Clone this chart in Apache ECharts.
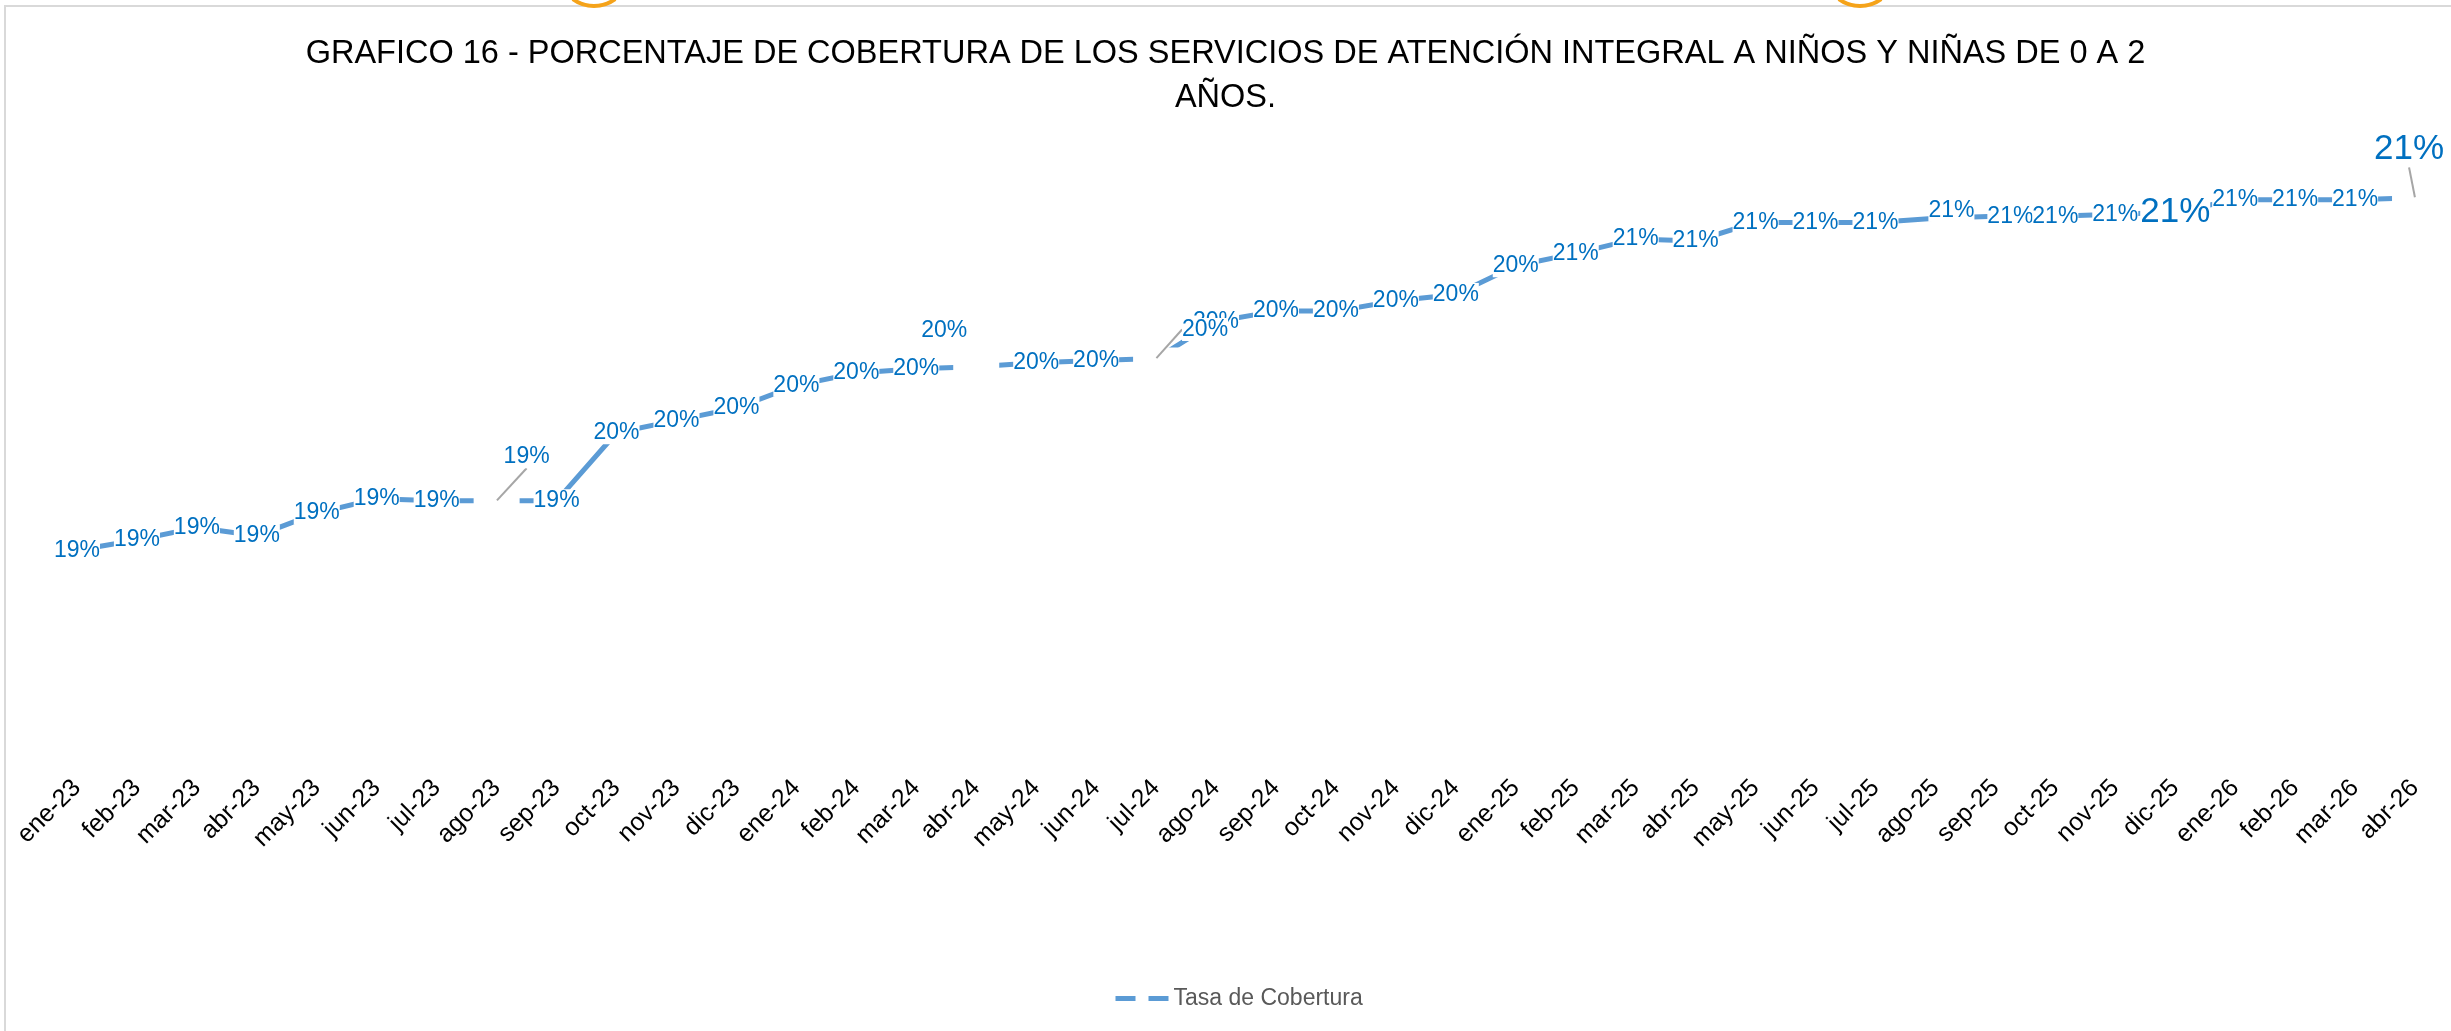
<!DOCTYPE html>
<html>
<head>
<meta charset="utf-8">
<script src="https://cdn.jsdelivr.net/npm/echarts@6/dist/echarts.min.js"></script>
<style>
html, body { margin: 0; padding: 0; background: #fff; }
#main { width: 2451px; height: 1031px; }
</style>
</head>
<body>
<div id="main"></div>
<script>
var months = ['ene-23', 'feb-23', 'mar-23', 'abr-23', 'may-23', 'jun-23', 'jul-23', 'ago-23', 'sep-23', 'oct-23',
    'nov-23', 'dic-23', 'ene-24', 'feb-24', 'mar-24', 'abr-24', 'may-24', 'jun-24', 'jul-24', 'ago-24',
    'sep-24', 'oct-24', 'nov-24', 'dic-24', 'ene-25', 'feb-25', 'mar-25', 'abr-25', 'may-25', 'jun-25',
    'jul-25', 'ago-25', 'sep-25', 'oct-25', 'nov-25', 'dic-25', 'ene-26', 'feb-26', 'mar-26', 'abr-26'];

// tasa de cobertura, en %
var cobertura = [19.09, 19.14, 19.20, 19.16, 19.27, 19.34, 19.33, 19.33, 19.33, 19.66,
    19.72, 19.78, 19.89, 19.95, 19.97, 19.98, 20.00, 20.01, 20.02, 20.20,
    20.25, 20.25, 20.30, 20.33, 20.47, 20.53, 20.60, 20.59, 20.68, 20.68,
    20.68, 20.70, 20.71, 20.71, 20.72, 20.73, 20.79, 20.79, 20.79, 20.80];

var seriesName = 'Tasa de Cobertura';
var titulo = 'GRAFICO 16 - PORCENTAJE DE COBERTURA DE LOS SERVICIOS DE ATENCIÓN INTEGRAL A NIÑOS Y NIÑAS DE 0 A 2\nAÑOS.';

// etiquetas movidas a mano (dx, dy, con linea guia)
var moved = {
    7: [30, -44, true],
    15: [-32, -36, false],
    18: [49, -29, true],
    31: [16, -8, false],
    32: [15, 0, false],
    39: [-6, -48, true]
};
var bigLabels = [35, 39];
// puntos donde la linea queda cortada (hueco de la etiqueta original)
var gaps = [7, 15, 18, 39];

var chartDom = document.getElementById('main');
var myChart = echarts.init(chartDom);

function pct(p) {
    var v = Array.isArray(p.value) ? p.value[1] : p.value;
    return Math.round(v) + '%';
}

var labelBase = {
    show: true,
    position: 'inside',
    fontFamily: 'Liberation Sans',
    fontSize: 23,
    color: '#0070C0',
    backgroundColor: '#fff',
    padding: [0, 0],
    formatter: pct
};

function layoutFn(p) {
    var m = moved[p.dataIndex];
    if (m) {
        return { dx: m[0], dy: m[1] };
    }
}

var seriesData = cobertura.map(function (v, i) {
    var item = { value: v };
    if (gaps.indexOf(i) >= 0) {
        item.label = { show: false };
    } else if (bigLabels.indexOf(i) >= 0) {
        item.label = { fontSize: 35 };
    }
    return item;
});

var gapData = cobertura.map(function (v, i) {
    return gaps.indexOf(i) >= 0 ? [i, v] : null;
});

var movedLabelData = cobertura.map(function (v, i) {
    if (gaps.indexOf(i) < 0) return null;
    var item = { value: [i, v] };
    if (bigLabels.indexOf(i) >= 0) item.label = { fontSize: 35 };
    item.labelLine = { show: moved[i][2] };
    return item;
});

var option = {
    backgroundColor: '#fff',
    title: {
        text: titulo,
        left: 'center',
        top: 27,
        textStyle: {
            fontFamily: 'Liberation Sans',
            fontSize: 32.5,
            fontWeight: 'normal',
            color: '#000',
            lineHeight: 44
        }
    },
    legend: {
        data: [seriesName],
        left: 1108,
        top: 982,
        itemWidth: 53,
        itemHeight: 14,
        itemGap: 5,
        itemStyle: { opacity: 0 },
        lineStyle: { width: 5, color: '#5B9BD5', type: [20, 13], opacity: 1 },
        textStyle: { fontFamily: 'Liberation Sans', fontSize: 23, color: '#595959' }
    },
    grid: {
        left: 47,
        right: 6,
        top: 74,
        bottom: 256
    },
    xAxis: {
        type: 'category',
        data: months,
        axisLine: { show: false },
        axisTick: { show: false },
        axisLabel: {
            rotate: 45,
            margin: 9,
            interval: 0,
            fontFamily: 'Liberation Sans',
            fontSize: 25,
            color: '#000'
        }
    },
    yAxis: {
        type: 'value',
        show: false,
        min: 18,
        max: 21.4,
        splitLine: { show: false }
    },
    series: [
        {
            name: seriesName,
            type: 'line',
            data: seriesData,
            color: '#5B9BD5',
            symbol: 'circle',
            symbolSize: 1,
            z: 2,
            lineStyle: { width: 5, color: '#5B9BD5', cap: 'butt' },
            label: labelBase,
            labelLayout: layoutFn,
            emphasis: { disabled: true },
            animation: false
        },
        {
            name: 'hueco',
            type: 'scatter',
            data: gapData,
            symbol: 'rect',
            symbolSize: [46, 22],
            itemStyle: { color: '#fff', opacity: 1 },
            emphasis: { disabled: true },
            z: 3,
            silent: true,
            animation: false
        },
        {
            name: 'etiqueta',
            type: 'scatter',
            data: movedLabelData,
            symbol: 'circle',
            symbolSize: 1,
            itemStyle: { color: 'rgba(255,255,255,0)', opacity: 1 },
            label: labelBase,
            labelLine: {
                lineStyle: { color: '#A6A6A6', width: 2 }
            },
            labelLayout: layoutFn,
            emphasis: { disabled: true },
            z: 4,
            silent: true,
            animation: false
        }
    ],
    graphic: [
        {
            type: 'rect',
            shape: { x: 5, y: 6, width: 2460, height: 1040 },
            style: { fill: 'none', stroke: '#D9D9D9', lineWidth: 2 },
            silent: true
        },
        {
            type: 'arc',
            shape: { cx: 594, cy: -30, r: 36, startAngle: Math.PI * 0.3, endAngle: Math.PI * 0.7 },
            style: { stroke: '#F5A31A', lineWidth: 4, fill: 'none' },
            silent: true
        },
        {
            type: 'arc',
            shape: { cx: 1860, cy: -30, r: 36, startAngle: Math.PI * 0.3, endAngle: Math.PI * 0.7 },
            style: { stroke: '#F5A31A', lineWidth: 4, fill: 'none' },
            silent: true
        }
    ]
};

option && myChart.setOption(option);
</script>
</body>
</html>
